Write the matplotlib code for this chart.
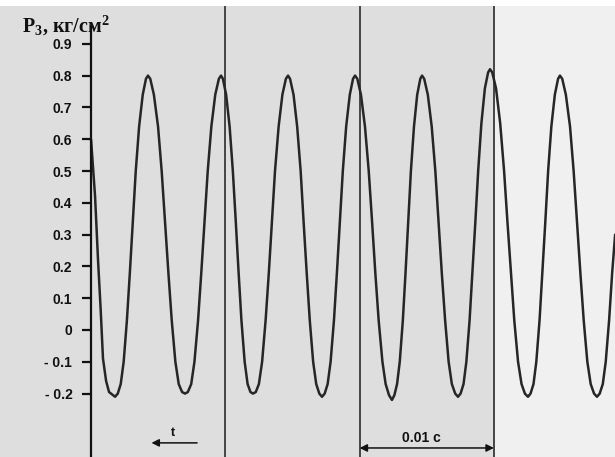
import matplotlib
matplotlib.use("Agg")
import matplotlib.pyplot as plt

plt.rcParams['mathtext.fontset'] = 'custom'
plt.rcParams['mathtext.rm'] = 'Liberation Serif:bold'
plt.rcParams['mathtext.it'] = 'Liberation Serif:bold'
plt.rcParams['mathtext.bf'] = 'Liberation Serif:bold'

# ---- data (time in ms, pressure in kg/cm^2) ----
t_ms = [
    0.00, 0.30, 0.52, 0.71, 0.89, 1.12, 1.34, 1.79,
    1.99, 2.21, 2.43, 2.67, 2.89, 3.11, 3.33, 3.58, 3.85, 4.09, 4.24,
    4.41, 4.68, 4.99, 5.26, 5.51, 5.76, 6.01, 6.28, 6.53, 6.78, 7.00,
    7.21, 7.46, 7.70, 7.97, 8.21, 8.45, 8.69, 8.96, 9.25, 9.52, 9.68,
    9.82, 10.06, 10.32, 10.56, 10.78, 10.99, 11.20, 11.44, 11.66, 11.87, 12.06,
    12.27, 12.50, 12.74, 13.00, 13.24, 13.47, 13.70, 13.97, 14.25, 14.51, 14.67,
    14.82, 15.08, 15.35, 15.61, 15.83, 16.06, 16.29, 16.54, 16.77, 17.00, 17.20,
    17.40, 17.62, 17.84, 18.09, 18.31, 18.53, 18.75, 19.00, 19.27, 19.51, 19.66,
    19.83, 20.10, 20.40, 20.68, 20.93, 21.17, 21.42, 21.70, 21.94, 22.19, 22.41,
    22.59, 22.79, 22.99, 23.22, 23.42, 23.62, 23.82, 24.05, 24.29, 24.52, 24.65,
    24.81, 25.08, 25.37, 25.64, 25.88, 26.12, 26.37, 26.63, 26.87, 27.12, 27.33,
    27.52, 27.74, 27.95, 28.19, 28.40, 28.62, 28.83, 29.07, 29.33, 29.57, 29.71,
    29.88, 30.16, 30.47, 30.76, 31.01, 31.27, 31.52, 31.80, 32.06, 32.31, 32.54,
    32.73, 32.95, 33.16, 33.40, 33.61, 33.83, 34.04, 34.28, 34.54, 34.78, 34.92,
    35.09, 35.36, 35.67, 35.94, 36.19, 36.44, 36.69, 36.96, 37.21, 37.46, 37.68,
    37.88, 38.11, 38.33, 38.58, 38.81, 39.03,
]
p_kgcm2 = [
    0.60, 0.42, 0.22, 0.07, -0.09, -0.16, -0.195, -0.21,
    -0.20, -0.17, -0.10, 0.03, 0.18, 0.34, 0.50, 0.64, 0.74, 0.79, 0.80,
    0.79, 0.74, 0.64, 0.50, 0.34, 0.18, 0.03, -0.10, -0.17, -0.195, -0.20,
    -0.195, -0.17, -0.10, 0.03, 0.18, 0.34, 0.50, 0.64, 0.74, 0.79, 0.80,
    0.79, 0.74, 0.64, 0.50, 0.34, 0.18, 0.03, -0.10, -0.17, -0.195, -0.20,
    -0.195, -0.17, -0.10, 0.03, 0.18, 0.34, 0.50, 0.64, 0.74, 0.79, 0.80,
    0.79, 0.74, 0.64, 0.50, 0.34, 0.18, 0.03, -0.10, -0.17, -0.20, -0.21,
    -0.20, -0.17, -0.10, 0.03, 0.18, 0.34, 0.50, 0.64, 0.74, 0.79, 0.80,
    0.79, 0.74, 0.64, 0.50, 0.34, 0.18, 0.03, -0.10, -0.17, -0.205, -0.22,
    -0.205, -0.17, -0.10, 0.03, 0.18, 0.34, 0.50, 0.64, 0.74, 0.79, 0.80,
    0.79, 0.74, 0.64, 0.50, 0.34, 0.18, 0.03, -0.10, -0.17, -0.20, -0.21,
    -0.20, -0.17, -0.10, 0.03, 0.18, 0.34, 0.50, 0.65, 0.76, 0.81, 0.82,
    0.81, 0.76, 0.65, 0.50, 0.34, 0.18, 0.03, -0.10, -0.17, -0.20, -0.21,
    -0.20, -0.17, -0.10, 0.03, 0.18, 0.34, 0.50, 0.64, 0.74, 0.79, 0.80,
    0.79, 0.74, 0.64, 0.50, 0.34, 0.18, 0.03, -0.10, -0.17, -0.20, -0.21,
    -0.20, -0.17, -0.10, 0.03, 0.18, 0.30,
]

y_ticks = [0.9, 0.8, 0.7, 0.6, 0.5, 0.4, 0.3, 0.2, 0.1, 0.0, -0.1, -0.2]
y_ticklabels = ['0.9', '0.8', '0.7', '0.6', '0.5', '0.4', '0.3', '0.2', '0.1',
                '0', '- 0.1', '- 0.2']
time_marks_ms = [10, 20, 30]
scale_bar_ms = [20, 30]
ylabel = 'P$_3$, кг/см$^2$'
scale_label = '0.01 c'

# ---- figure ----
fig = plt.figure(figsize=(6.15, 4.57), dpi=100)
fig.patch.set_facecolor('white')
ax = fig.add_axes([0, 0, 1, 451 / 457])
ax.set_facecolor('#dedede')
ax.set_xlim(-6.78, 39.02)
ax.set_ylim(-0.3994, 1.0189)

# lighter right part of the scan
ax.axvspan(30.1, 39.02, color='#f0f0f0', zorder=0, lw=0)

# time marks
for tm in time_marks_ms:
    ax.axvline(tm, color='#1c1c1c', lw=1.1, zorder=2)

# waveform
ax.plot(t_ms, p_kgcm2, color='#262626', lw=1.8, solid_joinstyle='round',
        solid_capstyle='round', zorder=3)

# y axis
for s in ['top', 'right', 'bottom']:
    ax.spines[s].set_visible(False)
ax.spines['left'].set_position(('data', 0))
ax.spines['left'].set_bounds(-0.3994, 0.955)
ax.spines['left'].set_linewidth(1.6)
ax.spines['left'].set_color('#111111')
ax.spines['left'].set_zorder(4)
ax.set_xticks([])
ax.set_yticks(y_ticks)
ax.set_yticklabels(y_ticklabels)
ax.tick_params(axis='y', direction='out', length=6.5, width=1.6, pad=7,
               labelsize=10, colors='#111111')
for lbl in ax.get_yticklabels():
    lbl.set_fontweight('bold')
    lbl.set_family('Liberation Sans')

# axis title
fig.text(22 / 615, 1 - 32 / 457, ylabel, family='Liberation Serif',
         fontweight='bold', fontsize=14.5, ha='left', va='baseline',
         color='#111111')

# time direction arrow
ax.annotate('', xy=(4.5, -0.355), xytext=(7.9, -0.355),
            arrowprops=dict(arrowstyle='-|>', color='#111111', lw=1.1,
                            mutation_scale=11, shrinkA=0, shrinkB=0))
ax.text(6.1, -0.325, 't', family='Liberation Sans', fontweight='bold',
        fontsize=9, ha='center', va='center', color='#111111')

# scale bar 0.01 s
ax.annotate('', xy=(scale_bar_ms[0], -0.371), xytext=(scale_bar_ms[1], -0.371),
            arrowprops=dict(arrowstyle='<|-|>', color='#111111', lw=1.1,
                            mutation_scale=11, shrinkA=0, shrinkB=0))
ax.text(24.6, -0.34, scale_label, family='Liberation Sans', fontweight='bold',
        fontsize=10, ha='center', va='center', color='#111111')

fig.savefig('out.png', dpi=100, facecolor=fig.get_facecolor())
